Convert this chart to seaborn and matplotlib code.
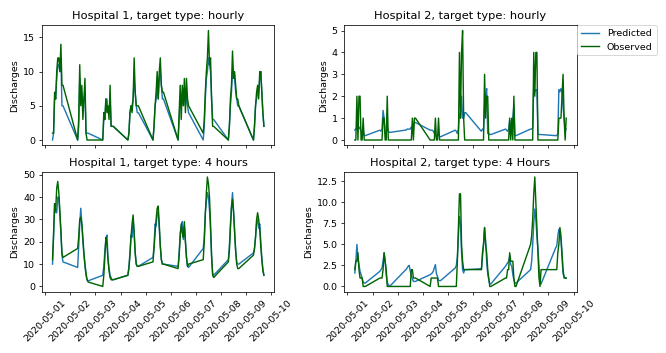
import pandas as pd
import matplotlib
matplotlib.use('Agg')
import matplotlib.pyplot as plt
import seaborn as sns

# horario das observacoes: 07h as 17h, de 01/05 a 09/05
dias = pd.date_range('2020-05-01', periods=9, freq='D')
horas = list(range(7, 18))
tempos = [d + pd.Timedelta(hours=h) for d in dias for h in horas]

# Hospital 1 - hourly
h1_hourly_obs = [1, 1, 7, 6, 10, 12, 12, 10, 14, 8, 8,
                 0, 3, 11, 5, 8, 3, 6, 9, 1, 0, 0,
                 0, 4, 3, 6, 4, 5, 3, 8, 2, 2, 2,
                 0, 1, 4, 5, 4, 6, 12, 7, 5, 5, 5,
                 0, 2, 5, 7, 10, 6, 10, 12, 8, 7, 7,
                 0, 4, 8, 3, 8, 5, 9, 4, 9, 6, 5,
                 1, 3, 7, 10, 12, 16, 11, 12, 6, 2, 2,
                 0, 2, 6, 8, 13, 9, 10, 8, 6, 6, 5,
                 0, 2, 5, 7, 8, 6, 10, 10, 7, 4, 2]
h1_hourly_pred = [0, 1, 6, 6, 9, 11, 11, 10, 12, 5, 5,
                  0, 2, 9, 6, 7, 5, 6, 7, 1, 1, 1,
                  0, 3, 3, 6, 6, 4, 4, 6, 2, 2, 2,
                  0, 1, 4, 5, 5, 6, 9, 7, 5, 4, 4,
                  0, 2, 5, 6, 8, 6, 9, 10, 8, 6, 6,
                  0, 3, 6, 5, 7, 6, 7, 5, 7, 5, 4,
                  0, 2, 6, 9, 10, 12, 11, 10, 6, 3, 3,
                  0, 2, 5, 7, 10, 9, 9, 7, 6, 5, 5,
                  0, 2, 5, 6, 7, 7, 9, 10, 7, 4, 2]

# Hospital 2 - hourly
h2_hourly_obs = [0, 0, 2, 0, 2, 2, 0, 0, 1, 0, 0,
                 0, 0, 0, 1, 1, 0, 0, 2, 0, 0, 0,
                 0, 0, 0, 0, 0, 0, 0, 1, 0, 1, 1,
                 0, 0, 0, 0, 0, 1, 0, 0, 1, 0, 0,
                 0, 0, 0, 0, 4, 1, 4, 5, 1, 0, 0,
                 0, 0, 0, 0, 3, 1, 2, 2, 0, 0, 0,
                 0, 0, 0, 0, 1, 0, 1, 0, 2, 0, 0,
                 0, 0, 0, 4, 2, 4, 4, 0, 0, 0, 0,
                 0, 0, 0, 1, 1, 1, 2, 3, 1, 0, 1]
h2_hourly_pred = [0.45, 0.5, 0.6, 0.7, 0.5, 0.6, 0.4, 0.3, 0.4, 0.2, 0.2,
                  0.45, 0.4, 0.5, 1.35, 1.0, 0.3, 0.3, 0.6, 0.4, 0.35, 0.35,
                  0.45, 0.45, 0.5, 0.5, 0.5, 0.5, 0.6, 0.5, 0.7, 0.8, 0.8,
                  0.45, 0.45, 0.45, 0.4, 0.3, 0.2, 0.15, 0.2, 0.25, 0.15, 0.15,
                  0.45, 0.4, 0.3, 0.5, 1.2, 1.0, 2.0, 1.0, 1.0, 1.25, 1.25,
                  0.45, 0.4, 0.5, 0.5, 1.5, 2.0, 2.35, 0.3, 0.3, 0.25, 0.25,
                  0.5, 0.45, 0.4, 0.5, 0.9, 0.2, 0.7, 1.0, 1.6, 0.2, 0.2,
                  0.5, 0.5, 0.55, 2.5, 2.2, 2.3, 2.3, 0.3, 0.25, 0.25, 0.25,
                  0.2, 0.2, 0.3, 2.3, 2.2, 2.35, 2.2, 1.5, 1.0, 0.5, 0.5]

# Hospital 1 - 4 hours
h1_4h_obs = [12, 24, 37, 34, 44, 47, 42, 34, 25, 15, 13,
             17, 22, 30, 31, 28, 22, 15, 10, 6, 3, 2,
             0, 5, 13, 22, 19, 12, 7, 4, 3, 3, 3,
             5, 8, 14, 22, 28, 32, 24, 15, 10, 9, 9,
             11, 17, 24, 30, 35, 36, 28, 18, 12, 10, 10,
             8, 14, 22, 28, 24, 22, 29, 20, 13, 9, 10,
             12, 20, 32, 42, 49, 46, 40, 28, 14, 5, 4,
             11, 16, 26, 35, 39, 33, 24, 16, 10, 8, 8,
             14, 17, 22, 30, 33, 30, 26, 18, 12, 7, 5]
h1_4h_pred = [10, 22, 37, 33, 33, 40, 40, 32, 24, 14, 11,
              8.5, 18, 28, 35, 28, 20, 14, 9, 5, 3, 2.5,
              5, 9, 16, 21, 23, 13, 8, 5, 4, 3, 3,
              5, 9, 15, 23, 22, 30, 24, 15, 10, 9, 9,
              13, 18, 28, 27, 33, 33, 26, 18, 12, 10, 10,
              9, 15, 24, 27, 29, 21, 27, 20, 13, 9, 8.5,
              17, 22, 33, 38, 42, 40, 34, 25, 13, 6, 5,
              12, 18, 28, 36, 42, 34, 25, 16, 11, 10, 10,
              15, 17, 22, 28, 30, 26, 28, 20, 13, 8, 5]

# Hospital 2 - 4 hours
h2_4h_obs = [2, 3, 3, 4, 2, 1, 1, 1, 0, 0, 0,
             1, 1, 1, 2, 4, 3, 2, 0, 0, 0, 0,
             0, 0, 0, 0, 0, 0, 2, 2, 1, 1, 1,
             0, 1, 1, 1, 1, 1, 1, 1, 0, 0, 0,
             0, 0, 3, 7, 11, 11, 5, 3, 2, 2, 2,
             2, 2, 4, 5, 7, 5, 4, 2, 1, 0, 0,
             1, 1, 2, 2, 4, 3, 3, 3, 1, 0, 0,
             5, 6, 8, 11, 13, 10, 7, 4, 1, 0, 2,
             2, 2, 4, 5, 7, 6, 4, 2, 1, 1, 1]
h2_4h_pred = [1.6, 3.0, 5.0, 3.3, 2.6, 1.8, 1.4, 1.0, 0.5, 0.4, 0.4,
              1.8, 2.0, 2.2, 3.0, 4.0, 3.0, 1.4, 0.5, 0.2, 0.1, 0.1,
              1.9, 2.0, 2.2, 2.4, 2.5, 1.8, 1.3, 0.9, 0.6, 0.6, 0.6,
              1.4, 1.5, 1.6, 1.8, 2.2, 2.6, 1.5, 1.2, 0.7, 0.7, 0.7,
              2.2, 2.5, 3.5, 6.0, 8.3, 7.5, 4.0, 2.0, 1.6, 2.0, 2.0,
              2.1, 2.0, 3.5, 5.0, 7.0, 5.5, 3.0, 1.5, 0.8, 0.3, 0.3,
              2.4, 2.6, 2.8, 3.0, 3.6, 2.6, 2.4, 1.4, 0.8, 0.4, 0.4,
              2.0, 3.0, 5.0, 7.5, 9.2, 8.0, 6.0, 4.5, 2.5, 0.3, 0.3,
              4.6, 4.8, 6.0, 6.8, 6.2, 5.5, 3.5, 1.5, 1.2, 1.0, 1.0]

titulos = ['Hospital 1, target type: hourly', 'Hospital 2, target type: hourly',
           'Hospital 1, target type: 4 hours', 'Hospital 2, target type: 4 Hours']
previsto = [h1_hourly_pred, h2_hourly_pred, h1_4h_pred, h2_4h_pred]
observado = [h1_hourly_obs, h2_hourly_obs, h1_4h_obs, h2_4h_obs]

fig, axes = plt.subplots(2, 2, figsize=(9.7942, 5.1912), dpi=68, sharex=True)
fig.subplots_adjust(left=0.063, right=0.866, bottom=0.173, top=0.929,
                    wspace=0.30, hspace=0.216)

for ax, titulo, pred, obs in zip(axes.flat, titulos, previsto, observado):
    sns.lineplot(x=tempos, y=pred, ax=ax, color='#1f77b4', label='Predicted')
    sns.lineplot(x=tempos, y=obs, ax=ax, color='darkgreen', label='Observed')
    ax.set_title(titulo)
    ax.set_ylabel('Discharges')
    ax.set_xlabel('')
    ax.get_legend().remove()

for ax in axes[1]:
    ax.tick_params(axis='x', rotation=45)

axes[0, 1].legend(loc='upper left', bbox_to_anchor=(1, 1), borderaxespad=0)

plt.savefig('out.png', dpi=68)
